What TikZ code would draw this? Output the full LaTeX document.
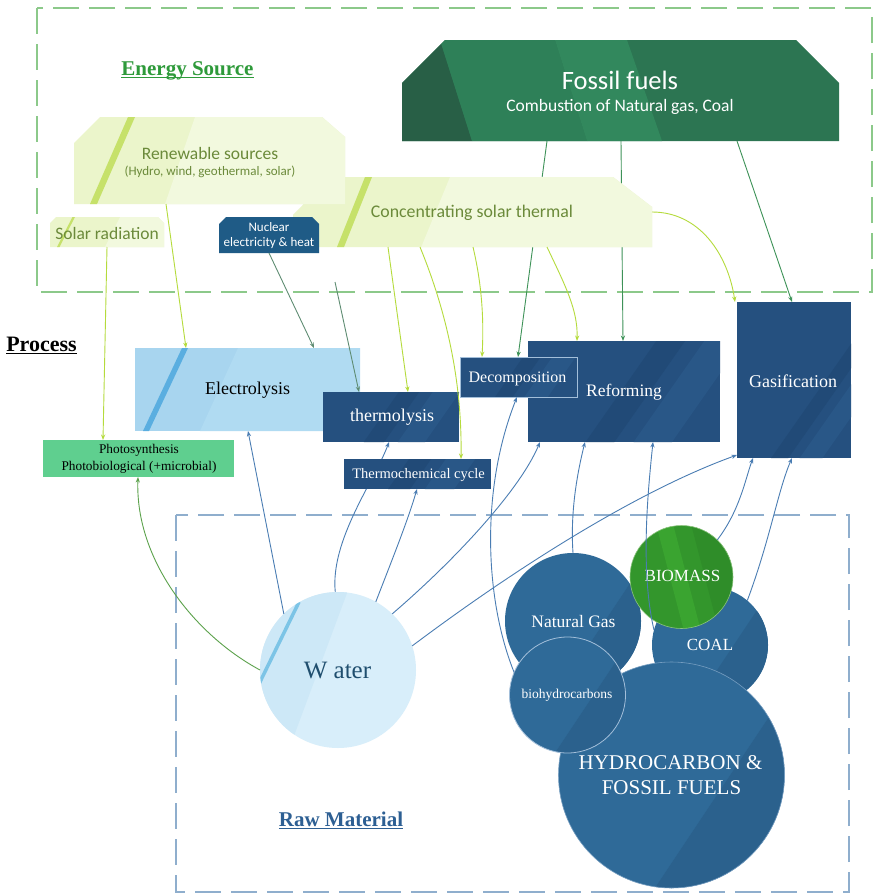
\documentclass[tikz,border=0pt]{standalone}
\usepackage{fontspec}
\setmainfont{Liberation Serif}
\newfontfamily\calibri{Carlito}
\usetikzlibrary{arrows.meta,calc}
\definecolor{esGreen}{HTML}{8CC98A}
\definecolor{rmBlue}{HTML}{8FAECD}
\definecolor{titleG}{HTML}{2E9A3A}
\definecolor{titleB}{HTML}{2D5F93}
\definecolor{olive}{HTML}{6B8A3A}
\definecolor{renA}{HTML}{EBF5CB}
\definecolor{renB}{HTML}{F2F9DE}
\definecolor{renStripe}{HTML}{C6E16A}
\definecolor{fosBase}{HTML}{2C7552}
\definecolor{fosDark}{HTML}{285F46}
\definecolor{fosMid}{HTML}{2E8058}
\definecolor{fosLight}{HTML}{32885D}
\definecolor{nucBlue}{HTML}{1F5B86}
\definecolor{elecA}{HTML}{A8D5EF}
\definecolor{elecB}{HTML}{B0DBF2}
\definecolor{elecStripe}{HTML}{5AAEE0}
\definecolor{dbBase}{HTML}{25507F}
\definecolor{dbDark}{HTML}{214A77}
\definecolor{dbLight}{HTML}{295787}
\definecolor{photoG}{HTML}{5FCF8F}
\definecolor{waterA}{HTML}{CDE8F7}
\definecolor{waterB}{HTML}{D8EEFA}
\definecolor{waterStripe}{HTML}{7CC4E6}
\definecolor{waterText}{HTML}{1F4E6E}
\definecolor{cBlue}{HTML}{2F6A98}
\definecolor{cDark}{HTML}{2B618D}
\definecolor{bmBase}{HTML}{33962C}
\definecolor{bmLight}{HTML}{3AA430}
\definecolor{bmDark}{HTML}{2F8D29}
\definecolor{bmRing}{HTML}{8CC47E}
\definecolor{lnY}{HTML}{B5DB3C}
\definecolor{lnNuc}{HTML}{5E8C72}
\definecolor{lnFos}{HTML}{3E9258}
\definecolor{lnBlue}{HTML}{4A7DB3}
\definecolor{lnPh}{HTML}{5CA24C}
\definecolor{ringC}{HTML}{A3BFDA}
\newcommand\dbbands[4]{%
  \begin{scope}
    \clip (#1,#2) rectangle (#3,#4);
    \fill[dbDark] ({#1+0.30*(#3-#1)},#4) -- ({#1+0.45*(#3-#1)},#4) -- ({#1+0.45*(#3-#1)+0.7*(#4-#2)},#2) -- ({#1+0.30*(#3-#1)+0.7*(#4-#2)},#2) -- cycle;
    \fill[dbLight] ({#1+0.55*(#3-#1)},#4) -- ({#1+0.75*(#3-#1)},#4) -- ({#1+0.75*(#3-#1)+0.7*(#4-#2)},#2) -- ({#1+0.55*(#3-#1)+0.7*(#4-#2)},#2) -- cycle;
  \end{scope}}
\newcommand\circband[4]{%
  \begin{scope}
    \clip (#1,#2) circle[radius=#3pt];
    \fill[cDark] ({#1+#4*#3-#3},{#2+1.5*#3}) -- ({#1+#4*#3+#3},{#2-1.5*#3}) -- ({#1+2*#3},{#2-1.5*#3}) -- ({#1+2*#3},{#2+1.5*#3}) -- cycle;
  \end{scope}}
\begin{document}
\begin{tikzpicture}[x=1pt,y=-1pt,
  conn/.style={line width=0.9pt,-{Stealth[length=5.5pt,width=4.2pt]}},
  cy/.style={conn,draw=lnY},
  cn/.style={conn,draw=lnNuc},
  cf/.style={conn,draw=lnFos},
  cb/.style={conn,draw=lnBlue},
  cg/.style={conn,draw=lnPh},
  anchorbox/.style={inner sep=0pt,outer sep=0pt,draw=none},
  anchorcirc/.style={circle,inner sep=0pt,outer sep=0pt,draw=none},
  txt/.style={inner sep=0pt,outer sep=0pt,align=center},
  esframe/.style={draw=esGreen,line width=1.2pt,dash pattern=on 26pt off 10pt},
  rmframe/.style={draw=rmBlue,line width=1.2pt,dash pattern=on 26pt off 10pt},
]
\useasboundingbox (0,0) rectangle (874,894);
\fill[white] (0,0) rectangle (874,894);

% frames
\draw[esframe] (37,8) rectangle (872,292);
\draw[rmframe] (176,515) rectangle (849,892);

% anchor nodes
\node[anchorbox,minimum width=437pt,minimum height=101pt] (fossil) at (620.5,90.5) {};
\node[anchorbox,minimum width=271pt,minimum height=87pt] (ren) at (209.5,160.5) {};
\node[anchorbox,minimum width=114pt,minimum height=30pt] (solar) at (107,232) {};
\node[anchorbox,minimum width=359pt,minimum height=70pt] (csp) at (472.5,212) {};
\node[anchorbox,minimum width=100pt,minimum height=36pt] (nuc) at (269,235) {};
\node[anchorbox,minimum width=225pt,minimum height=83pt] (elec) at (247.5,389.5) {};
\node[anchorbox,minimum width=136pt,minimum height=50pt] (thermo) at (391,417) {};
\node[anchorbox,minimum width=147pt,minimum height=30pt] (tcc) at (417.5,474) {};
\node[anchorbox,minimum width=117pt,minimum height=40pt] (decomp) at (518.5,377) {};
\node[anchorbox,minimum width=192pt,minimum height=101pt] (reform) at (624,391.5) {};
\node[anchorbox,minimum width=114pt,minimum height=156pt] (gasif) at (794,380) {};
\node[anchorbox,minimum width=191pt,minimum height=37pt] (photo) at (138.5,458.5) {};
\node[anchorcirc,minimum size=156pt] (water) at (338,670) {};
\node[anchorcirc,minimum size=136pt] (ng) at (573,621) {};
\node[anchorcirc,minimum size=116pt] (bio) at (567.5,695) {};
\node[anchorcirc,minimum size=226pt] (hc) at (671.5,775) {};
\node[anchorcirc,minimum size=116pt] (coal) at (710,645) {};
\node[anchorcirc,minimum size=103pt] (biomass) at (681.5,577) {};
\coordinate (nucx) at (335,282);

% connectors passing behind shapes
\draw[cf] ([xshift=145pt]fossil.south west) -- ([xshift=58pt]decomp.north west);
\draw[cf] ([xshift=219pt]fossil.south west) -- ([xshift=95pt]reform.north west);
\draw[cb] (water.92) .. controls (330,540) and (375,480) .. ([xshift=66pt]thermo.south west);

% ---- energy source shapes
\fill[fosBase] (402,83)--(445,40)--(796,40)--(839,83)--(839,141)--(402,141)--cycle;
\begin{scope}
  \clip (402,83)--(445,40)--(796,40)--(839,83)--(839,141)--(402,141)--cycle;
  \fill[fosDark] (400,40)--(440,40)--(472,141)--(400,141)--cycle;
  \fill[fosMid] (472,141)--(440,40)--(555,40)--(587,141)--cycle;
  \fill[fosLight] (555,40)--(627,40)--(662,141)--(587,141)--cycle;
\end{scope}

\fill[renA] (293,215)--(330,177)--(613,177)--(652,207)--(652,247)--(293,247)--cycle;
\begin{scope}
  \clip (293,215)--(330,177)--(613,177)--(652,207)--(652,247)--(293,247)--cycle;
  \fill[renB] (450,177)--(660,177)--(660,250)--(420,250)--cycle;
  \fill[renStripe] (337,247)--(344,247)--(372,177)--(365,177)--cycle;
\end{scope}

\fill[renA] (74,143)--(100,117)--(322,117)--(345,137)--(345,204)--(74,204)--cycle;
\begin{scope}
  \clip (74,143)--(100,117)--(322,117)--(345,137)--(345,204)--(74,204)--cycle;
  \fill[renB] (195,117)--(350,117)--(350,204)--(165,204)--cycle;
  \fill[renStripe] (90,204)--(97,204)--(135,117)--(128,117)--cycle;
\end{scope}

\fill[renA] (50,247)--(50,223)--(56,217)--(158,217)--(164,223)--(164,247)--cycle;
\begin{scope}
  \clip (50,247)--(50,223)--(56,217)--(158,217)--(164,223)--(164,247)--cycle;
  \fill[renB] (120,217)--(170,217)--(170,247)--(105,247)--cycle;
  \fill[renStripe] (57,247)--(59.5,247)--(75,217)--(72.5,217)--cycle;
\end{scope}

\fill[nucBlue] (219,253)--(219,224)--(226,217)--(312,217)--(319,224)--(319,253)--cycle;

% ---- process shapes
\fill[elecA] (135,348) rectangle (360,431);
\begin{scope}
  \clip (135,348) rectangle (360,431);
  \fill[elecB] (238,348)--(360,348)--(360,431)--(200,431)--cycle;
  \fill[elecStripe] (143,431)--(149,431)--(188,348)--(182,348)--cycle;
\end{scope}
\fill[photoG] (43,440) rectangle (234,477);
\fill[dbBase] (323,392) rectangle (459,442);
\dbbands{323}{392}{459}{442}
\fill[dbBase] (344,459) rectangle (491,489);
\dbbands{344}{459}{491}{489}
\fill[dbBase] (528,341) rectangle (720,442);
\dbbands{528}{341}{720}{442}
\fill[dbBase] (460,357) rectangle (577,397);
\dbbands{460}{357}{577}{397}
\draw[ringC,line width=0.7pt] (460,357) rectangle (577,397);
\fill[dbBase] (737,302) rectangle (851,458);
\dbbands{737}{302}{851}{458}

% ---- raw material circles
\fill[waterB] (338,670) circle[radius=78pt];
\begin{scope}
  \clip (338,670) circle[radius=78pt];
  \fill[waterA] (250,560)--(350,585)--(285,760)--(250,760)--cycle;
  \draw[waterStripe,line width=3.5pt] (258,686)--(299,602);
\end{scope}
\fill[cBlue] (573,621) circle[radius=68pt];
\circband{573}{621}{68}{0.47}
\fill[cBlue] (710,645) circle[radius=58pt];
\circband{710}{645}{58}{0.41}
\fill[bmBase] (681.5,577) circle[radius=51.5pt];
\begin{scope}
  \clip (681.5,577) circle[radius=51.5pt];
  \fill[bmLight] (655,520)--(672,520)--(702,635)--(685,635)--cycle;
  \fill[bmDark] (690,520)--(740,520)--(740,635)--(720,635)--cycle;
\end{scope}
\draw[bmRing,line width=0.6pt] (681.5,577) circle[radius=51.5pt];
\fill[cBlue] (671.5,775) circle[radius=113pt];
\circband{671.5}{775}{113}{0.52}
\draw[ringC!60!cBlue,line width=0.6pt] (671.5,775) circle[radius=113pt];
\fill[cBlue] (567.5,695) circle[radius=58pt];
\circband{567.5}{695}{58}{0.45}
\draw[ringC,line width=0.8pt] (567.5,695) circle[radius=58pt];

% ---- texts
\node[txt,text=titleG,font=\bfseries\fontsize{21}{25}\selectfont] (es) at (187.5,71) {Energy Source};
\draw[titleG,line width=1.1pt] ([yshift=-2pt]es.base west) -- ([yshift=-2pt]es.base east);
\node[txt,text=black,font=\bfseries\fontsize{22}{26}\selectfont] (proc) at (41.5,344) {Process};
\draw[black,line width=1.1pt] ([yshift=-2.5pt]proc.base west) -- ([yshift=-2.5pt]proc.base east);
\node[txt,text=titleB,font=\bfseries\fontsize{21}{25}\selectfont] (rawm) at (341,819) {Raw Material};
\draw[titleB,line width=1.1pt] ([yshift=-2.5pt]rawm.base west) -- ([yshift=-2.5pt]rawm.base east);

\node[txt,text=white,font=\calibri\fontsize{26.5}{30}\selectfont] (fossil-t1) at (620,80) {Fossil fuels};
\node[txt,text=white,font=\calibri\fontsize{17.5}{20}\selectfont] (fossil-t2) at (620,107) {Combustion of Natural gas, Coal};
\node[txt,text=olive,font=\calibri\fontsize{17.5}{20}\selectfont] (ren-t1) at (210,153) {Renewable sources};
\node[txt,text=olive,font=\calibri\fontsize{13}{15}\selectfont] (ren-t2) at (210,172) {(Hydro, wind, geothermal, solar)};
\node[txt,text=olive,font=\calibri\fontsize{17.5}{20}\selectfont] (solar-t) at (107,233) {Solar radiation};
\node[txt,text=olive,font=\calibri\fontsize{17.8}{20}\selectfont] (csp-t) at (472,213) {Concentrating solar thermal};
\node[txt,text=white,font=\calibri\fontsize{13}{15}\selectfont] (nuc-t1) at (269,227.5) {Nuclear};
\node[txt,text=white,font=\calibri\fontsize{13}{15}\selectfont] (nuc-t2) at (269,243) {electricity \& heat};

\node[txt,text=black,font=\fontsize{18}{20}\selectfont] (elec-t) at (247.5,390) {Electrolysis};
\node[txt,text=white,font=\fontsize{18}{20}\selectfont] (thermo-t) at (392,417.5) {thermolysis};
\node[txt,text=white,font=\fontsize{14.5}{17}\selectfont] (tcc-t) at (418.5,475) {Thermochemical cycle};
\node[txt,text=white,font=\fontsize{16}{19}\selectfont] (decomp-t) at (517.5,378.5) {Decomposition};
\node[txt,text=white,font=\fontsize{17.5}{20}\selectfont] (reform-t) at (624,392.5) {Reforming};
\node[txt,text=white,font=\fontsize{18}{20}\selectfont] (gasif-t) at (793,381) {Gasification};
\node[txt,text=black,font=\fontsize{13.3}{15}\selectfont] (photo-t1) at (139,450.5) {Photosynthesis};
\node[txt,text=black,font=\fontsize{13.3}{15}\selectfont] (photo-t2) at (139,467) {Photobiological (+microbial)};

\node[txt,text=waterText,font=\fontsize{25}{28}\selectfont] (water-t) at (337.5,670.5) {W ater};
\node[txt,text=white,font=\fontsize{17.5}{20}\selectfont] (ng-t) at (573.5,621.5) {Natural Gas};
\node[txt,text=white,font=\fontsize{13.5}{16}\selectfont] (bio-t) at (567,695) {biohydrocarbons};
\node[txt,text=white,font=\fontsize{21}{24}\selectfont] (hc-t1) at (670.5,762.5) {HYDROCARBON \&};
\node[txt,text=white,font=\fontsize{21}{24}\selectfont] (hc-t2) at (671.5,788) {FOSSIL FUELS};
\node[txt,text=white,font=\fontsize{17}{20}\selectfont] (coal-t) at (710,644.5) {COAL};
\node[txt,text=white,font=\fontsize{17}{20}\selectfont] (biomass-t) at (682.5,575.5) {BIOMASS};

% ---- connectors from energy sources
\draw[cy] (solar.south) -- ([xshift=-35.5pt]photo.north);
\draw[cy] ([xshift=92pt]ren.south west) -- ([xshift=51pt]elec.north west);
\draw[cn] (nuc.south) -- ([xshift=179pt]elec.north west);
\draw[cn] (nucx) -- ([xshift=36pt]thermo.north west);
\draw[cy] ([xshift=95pt]csp.south west) -- ([xshift=85pt]thermo.north west);
\draw[cy] ([xshift=127pt]csp.south west) .. controls (450,320) and (462,390) .. ([xshift=117pt]tcc.north west);
\draw[cy] ([xshift=180pt]csp.south west) .. controls (482,285) and (484,320) .. ([xshift=22pt]decomp.north west);
\draw[cy] ([xshift=254pt]csp.south west) .. controls (565,285) and (578,310) .. ([xshift=49pt]reform.north west);
\draw[cy] (csp.east) .. controls (700,212) and (728,255) .. ([xshift=-2pt]gasif.north west);
\draw[cf] ([xshift=335pt]fossil.south west) -- ([xshift=-2pt]gasif.north);

% ---- connectors from raw materials
\draw[cb] (water.134) -- ([xshift=113pt]elec.south west);
\draw[cb] (water.61) .. controls (392,560) and (408,520) .. ([xshift=73pt]tcc.south west);
\draw[cb] (water.46) .. controls (455,560) and (520,490) .. ([xshift=12pt]reform.south west);
\draw[cb] (water.18) .. controls (520,565) and (640,490) .. ([yshift=3pt]gasif.south west);
\draw[cb] (bio.157) .. controls (485,600) and (480,490) .. ([xshift=57pt]decomp.south west);
\draw[cb] (ng.north) .. controls (570,510) and (578,470) .. ([xshift=57pt]reform.south west);
\draw[cb] (coal.165) .. controls (640,570) and (648,490) .. ([xshift=125pt]reform.south west);
\draw[cb] (biomass.46) .. controls (740,510) and (745,480) .. ([xshift=16pt]gasif.south west);
\draw[cb] (coal.50) .. controls (770,540) and (778,490) .. ([xshift=55pt]gasif.south west);
\draw[cg] (water.west) .. controls (195,635) and (135,560) .. ([xshift=-0.5pt]photo.south);
\end{tikzpicture}
\end{document}
